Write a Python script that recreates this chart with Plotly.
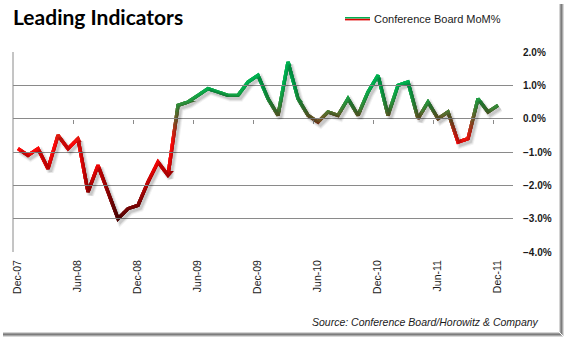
import plotly.graph_objects as go

# ---------------- data ----------------
tick_labels = ["Dec-07", "Jun-08", "Dec-08", "Jun-09", "Dec-09",
               "Jun-10", "Dec-10", "Jun-11", "Dec-11"]
mom_pct = [
    -0.9, -1.1, -0.9, -1.5, -0.5, -0.9,            # Dec-07 .. May-08
    -0.6, -2.2, -1.4, -2.2, -3.0, -2.7,            # Jun-08 .. Nov-08
    -2.6, -1.9, -1.3, -1.7, 0.4, 0.5,              # Dec-08 .. May-09
    0.7, 0.9, 0.8, 0.7, 0.7, 1.1,                  # Jun-09 .. Nov-09
    1.3, 0.6, 0.1, 1.7, 0.6, 0.1,                  # Dec-09 .. May-10
    -0.1, 0.2, 0.1, 0.6, 0.1, 0.8,                 # Jun-10 .. Nov-10
    1.3, 0.1, 1.0, 1.1, 0.0, 0.5,                  # Dec-10 .. May-11
    0.0, 0.2, -0.7, -0.6, 0.6, 0.2,                # Jun-11 .. Nov-11
    0.4,                                           # Dec-11
]
series_name = "Conference Board MoM%"
source_text = "Source: Conference Board/Horowitz & Company"
title_text = "Leading Indicators"

# ---------------- geometry / style ----------------
FIG_W, FIG_H = 567, 342
L, R, T, B = 13, 54, 52, 90
PW, PH = FIG_W - L - R, FIG_H - T - B
Y_MIN, Y_MAX = -4.0, 2.0
Y_SPAN = Y_MAX - Y_MIN
N_CAT = 50                      # category slots on the axis
X_RANGE = [-0.5, N_CAT - 0.5]

def px_x(p):
    return (p - L) / PW

def px_y(p):
    return (FIG_H - B - p) / PH

x_idx = list(range(len(mom_pct)))
label_pos = list(range(0, len(mom_pct), 6))
boundary_ticks = [i - 0.5 for i in range(6, len(mom_pct), 6)]

# value -> color stops (vertical gradient on the line)
stops = [
    (-4.0, (60, 0, 0)),
    (-3.0, (90, 5, 5)),
    (-2.6, (125, 5, 5)),
    (-2.1, (175, 5, 5)),
    (-1.5, (235, 5, 5)),
    (-0.75, (255, 10, 10)),
    (-0.4, (200, 40, 20)),
    (-0.1, (125, 80, 35)),
    (0.1, (95, 105, 45)),
    (0.35, (55, 135, 55)),
    (0.7, (20, 165, 70)),
    (1.0, (0, 176, 80)),
    (2.0, (0, 176, 80)),
]

def color_at(v):
    if v <= stops[0][0]:
        c = stops[0][1]
    elif v >= stops[-1][0]:
        c = stops[-1][1]
    else:
        for (v0, c0), (v1, c1) in zip(stops[:-1], stops[1:]):
            if v0 <= v <= v1:
                t = (v - v0) / (v1 - v0)
                c = tuple(c0[i] + (c1[i] - c0[i]) * t for i in range(3))
                break
    return "rgb(%d,%d,%d)" % tuple(round(x) for x in c)

fig = go.Figure()

# invisible trace carrying the zero-line tick axis
fig.add_trace(go.Scatter(x=x_idx, y=mom_pct, xaxis="x2", yaxis="y",
                         mode="lines", line=dict(width=0, color="rgba(0,0,0,0)"),
                         hoverinfo="skip", showlegend=False))

# drop shadow (offset axes)
SH_DX = 0.25     # categories  (~2.5 px)
SH_DY = 0.09     # percent     (~3 px)
for w, a in [(7, 0.05), (5, 0.08), (3, 0.10)]:
    fig.add_trace(go.Scatter(x=x_idx, y=mom_pct, xaxis="x3", yaxis="y2",
                             mode="lines",
                             line=dict(width=w, color="rgba(0,0,0,%.2f)" % a),
                             hoverinfo="skip", showlegend=False))

# gradient line: the same line is drawn in stacked clip windows (bottom-up);
# each window starts one step higher, so the last one drawn sets the color.
STEP = 0.1
WIN = 0.33
N_BANDS = 57          # window starts from -4.0 to 1.6
layout_axes = {}
for b in range(N_BANDS):
    v0 = Y_MIN + b * STEP
    v1 = Y_MAX if b == N_BANDS - 1 else min(v0 + WIN, Y_MAX)
    dom = [(v0 - Y_MIN) / Y_SPAN, (v1 - Y_MIN) / Y_SPAN]
    ax_n = b + 3
    layout_axes["yaxis%d" % ax_n] = dict(domain=dom, range=[v0, v1], anchor="x",
                                         visible=False, fixedrange=True)
    fig.add_trace(go.Scatter(x=x_idx, y=mom_pct, xaxis="x", yaxis="y%d" % ax_n,
                             mode="lines",
                             line=dict(width=3.4,
                                       color=color_at(v0 + STEP / 2)),
                             hoverinfo="skip", showlegend=False,
                             name=series_name))

grid_col = "#8a8a8a"
fig.update_layout(
    width=FIG_W, height=FIG_H,
    margin=dict(l=L, r=R, t=T, b=B),
    paper_bgcolor="white", plot_bgcolor="rgba(0,0,0,0)",
    showlegend=False,
    xaxis=dict(domain=[0, 1], range=X_RANGE, anchor="y",
               tickmode="array", tickvals=label_pos, ticktext=tick_labels,
               tickangle=-90, ticks="", showgrid=False, zeroline=False,
               showline=False, ticklabelstandoff=5,
               tickfont=dict(family="Liberation Sans, Arial, sans-serif",
                             size=10.5, color="#1a1a1a")),
    xaxis2=dict(overlaying="x", anchor="free",
                position=(0 - Y_MIN) / Y_SPAN, side="bottom",
                range=X_RANGE, tickmode="array", tickvals=boundary_ticks,
                ticks="outside", ticklen=4, tickwidth=1, tickcolor=grid_col,
                showticklabels=False, showgrid=False, zeroline=False,
                showline=False),
    xaxis3=dict(overlaying="x", range=[X_RANGE[0] - SH_DX, X_RANGE[1] - SH_DX],
                visible=False),
    yaxis=dict(domain=[0, 1], range=[Y_MIN, Y_MAX], side="right", anchor="x",
               dtick=1, tick0=0, tickformat=".1f", ticksuffix="%",
               showgrid=True, gridcolor=grid_col, gridwidth=1,
               zeroline=False, showline=False, ticks="",
               ticklabelstandoff=9,
               tickfont=dict(family="Liberation Sans, Arial, sans-serif",
                             size=10, color="#1a1a1a", weight="bold")),
    yaxis2=dict(overlaying="y", range=[Y_MIN + SH_DY, Y_MAX + SH_DY],
                visible=False),
    **layout_axes,
)

shapes = []
# left value-axis line
shapes.append(dict(type="line", xref="paper", yref="paper",
                   x0=0, x1=0, y0=0, y1=1, line=dict(color=grid_col, width=1)))
# legend swatch (two-tone line)
shapes.append(dict(type="line", xref="paper", yref="paper",
                   x0=px_x(345), x1=px_x(370), y0=px_y(17.8), y1=px_y(17.8),
                   line=dict(color="#00b050", width=1.6)))
shapes.append(dict(type="line", xref="paper", yref="paper",
                   x0=px_x(345), x1=px_x(370), y0=px_y(19.6), y1=px_y(19.6),
                   line=dict(color="#e00000", width=1.6)))
# frame with shadow (right and bottom)
for off, col in [(-1, "#d4d4d4"), (0, "#9a9a9a"), (1, "#7c7c7c"),
                 (2, "#a8a8a8"), (3, "#d8d8d8")]:
    xp = 560.5 + off
    shapes.append(dict(type="line", xref="paper", yref="paper",
                       x0=px_x(xp), x1=px_x(xp), y0=px_y(4), y1=px_y(333 + off),
                       line=dict(color=col, width=1)))
    yp = 333.5 + off
    shapes.append(dict(type="line", xref="paper", yref="paper",
                       x0=px_x(3), x1=px_x(560 + off), y0=px_y(yp), y1=px_y(yp),
                       line=dict(color=col, width=1)))
fig.update_layout(shapes=shapes)

fig.add_annotation(text="<b>%s</b>" % title_text, xref="paper", yref="paper",
                   x=px_x(11), y=px_y(16), xanchor="left", yanchor="middle",
                   showarrow=False,
                   font=dict(family="Lato, Open Sans, sans-serif", size=21,
                             color="#000000"))
fig.add_annotation(text=series_name, xref="paper", yref="paper",
                   x=px_x(372), y=px_y(19), xanchor="left", yanchor="middle",
                   showarrow=False,
                   font=dict(family="Liberation Sans, Arial, sans-serif",
                             size=11, color="#1a1a1a"))
fig.add_annotation(text="<i>%s</i>" % source_text, xref="paper", yref="paper",
                   x=px_x(541), y=px_y(322), xanchor="right", yanchor="middle",
                   showarrow=False,
                   font=dict(family="Liberation Sans, Arial, sans-serif",
                             size=10.5, color="#1a1a1a"))

fig.write_html("out.html")
